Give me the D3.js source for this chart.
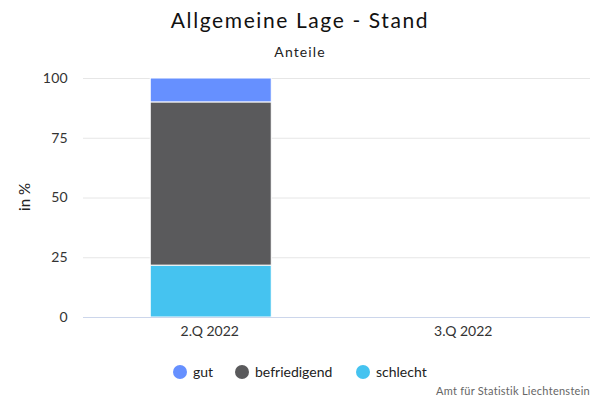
<!DOCTYPE html>
<html><head><meta charset="utf-8">
<script src="https://cdn.jsdelivr.net/npm/d3@7"></script>
<style>body{margin:0;background:#fff}svg{font-family:Lato,sans-serif}</style>
</head><body><svg id="c" width="600" height="400"></svg>
<script>
const categories = ["2.Q 2022", "3.Q 2022"];
const seriesNames = ["gut", "befriedigend", "schlecht"];
const gut = [10, null];
const befriedigend = [68.3, null];
const schlecht = [21.7, null];
const yTicks = [0, 25, 50, 75, 100];
const colors = {gut: "#6690ff", befriedigend: "#5a5a5c", schlecht: "#45c3f0"};

const svg = d3.select("#c");
const m = {l: 83, r: 590, t: 78, b: 317};
const x = d3.scaleBand().domain(categories).range([m.l, m.r]).paddingInner(0).paddingOuter(0);
const y = d3.scaleLinear().domain([0, 100]).range([m.b, m.t]);

svg.append("text").attr("x", 300).attr("y", 28).attr("text-anchor", "middle")
  .attr("font-size", 21).attr("letter-spacing", 1.6).attr("fill", "#111").text("Allgemeine Lage - Stand");
svg.append("text").attr("x", 300).attr("y", 57).attr("text-anchor", "middle")
  .attr("font-size", 14).attr("letter-spacing", 1.1).attr("fill", "#222").text("Anteile");

// grid
svg.append("g").selectAll("line").data(yTicks.filter(d => d > 0)).join("line")
  .attr("x1", m.l).attr("x2", m.r).attr("y1", d => y(d) + 0.5).attr("y2", d => y(d) + 0.5)
  .attr("stroke", "#e6e6e6");
// y labels
const ya = svg.append("g").attr("transform", `translate(${m.l},0)`)
  .call(d3.axisLeft(y).tickValues(yTicks).tickSize(0).tickPadding(15));
ya.select(".domain").remove();
ya.selectAll("text").attr("font-size", 14).attr("letter-spacing", 0.3).attr("fill", "#333").attr("font-family", "Lato,sans-serif");

svg.append("text").attr("transform", "translate(30,197) rotate(-90)").attr("text-anchor", "middle")
  .attr("font-size", 15).attr("fill", "#222").text("in %");

// bars
const table = categories.map((c, i) => ({cat: c, gut: gut[i] || 0, befriedigend: befriedigend[i] || 0, schlecht: schlecht[i] || 0}));
const stack = d3.stack().keys(["schlecht", "befriedigend", "gut"]);
const layers = stack(table);
const bw = 121;
svg.append("g").selectAll("g").data(layers).join("g").attr("fill", d => colors[d.key])
  .selectAll("rect").data(d => d.filter(p => p[1] - p[0] > 0)).join("rect")
  .attr("x", d => x(d.data.cat) + x.bandwidth() / 2 - bw / 2 + 1)
  .attr("width", bw)
  .attr("y", d => y(d[1]))
  .attr("height", d => y(d[0]) - y(d[1]))
  .attr("stroke", "#fff").attr("stroke-width", 1);

// x axis
const xa = svg.append("g").attr("transform", `translate(0,${m.b})`)
  .call(d3.axisBottom(x).tickSize(0).tickPadding(9));
xa.select(".domain").attr("stroke", "#ccd6eb").attr("d", `M${m.l},0.5H${m.r}`);
xa.selectAll("text").attr("font-size", 14).attr("fill", "#333").attr("font-family", "Lato,sans-serif");

// legend
const leg = [{k: "gut", x: 180}, {k: "befriedigend", x: 242}, {k: "schlecht", x: 363}];
const lg = svg.append("g");
leg.forEach(d => {
  lg.append("circle").attr("cx", d.x).attr("cy", 372).attr("r", 7).attr("fill", colors[d.k]);
  lg.append("text").attr("x", d.x + 13).attr("y", 377).attr("font-size", 14).attr("fill", "#222").text(d.k);
});
svg.append("text").attr("x", 590).attr("y", 395).attr("text-anchor", "end")
  .attr("font-size", 11).attr("letter-spacing", 0.27).attr("fill", "#666").text("Amt für Statistik Liechtenstein");
</script></body></html>
